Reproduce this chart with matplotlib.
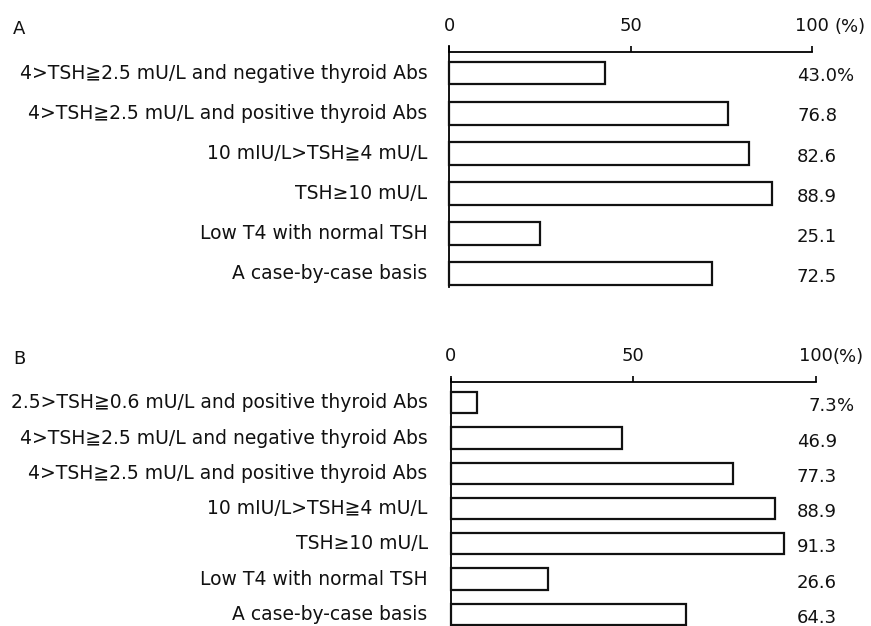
import matplotlib
matplotlib.use("Agg")
import matplotlib.pyplot as plt

plt.rcParams['font.family'] = ['DejaVu Sans', 'Noto Sans CJK JP']

# panel A
labels_a = [
    "4>TSH≧2.5 mU/L and negative thyroid Abs",
    "4>TSH≧2.5 mU/L and positive thyroid Abs",
    "10 mIU/L>TSH≧4 mU/L",
    "TSH≥10 mU/L",
    "Low T4 with normal TSH",
    "A case-by-case basis",
]
values_a = [43.0, 76.8, 82.6, 88.9, 25.1, 72.5]

# panel B
labels_b = [
    "2.5>TSH≧0.6 mU/L and positive thyroid Abs",
    "4>TSH≧2.5 mU/L and negative thyroid Abs",
    "4>TSH≧2.5 mU/L and positive thyroid Abs",
    "10 mIU/L>TSH≧4 mU/L",
    "TSH≥10 mU/L",
    "Low T4 with normal TSH",
    "A case-by-case basis",
]
values_b = [7.3, 46.9, 77.3, 88.9, 91.3, 26.6, 64.3]

FS = 13
LAB_FS = 13.5
INK = "#111111"


def draw_panel(ax, labels, values, bar_h, ylim, spine_bounds,
               val_x, pct_x, lab_x, val_dy):
    y = list(range(len(values)))
    ax.barh(y, values, height=bar_h, color="white", edgecolor=INK,
            linewidth=1.6, clip_on=False, zorder=3)
    ax.set_xlim(0, 100)
    ax.set_ylim(*ylim)
    for s in ["right", "bottom"]:
        ax.spines[s].set_visible(False)
    ax.spines["top"].set_linewidth(1.3)
    ax.spines["left"].set_linewidth(1.3)
    ax.spines["left"].set_bounds(*spine_bounds)
    ax.xaxis.tick_top()
    ax.set_xticks([0, 50, 100])
    ax.set_xticklabels(["0", "50", "100"])
    ax.tick_params(axis="x", direction="out", length=4, width=1.3, pad=8,
                   labelsize=FS, colors=INK)
    ax.set_yticks([])
    # "(%)" sits on the tick-label row, right of "100"
    ax.annotate("(%)", xy=(pct_x, 1.0), xycoords=ax.get_xaxis_transform(),
                xytext=(0, 17.5), textcoords="offset points",
                ha="left", va="center", fontsize=FS, color=INK)
    for i, (lab, v) in enumerate(zip(labels, values)):
        ax.text(lab_x, i, lab, ha="right", va="center", fontsize=LAB_FS,
                color=INK, clip_on=False)
        ax.text(val_x, i + val_dy, f"{v:.1f}", ha="right", va="center",
                fontsize=FS, color=INK, clip_on=False)
        if i == 0:
            ax.text(val_x, i + val_dy, "%", ha="left", va="center",
                    fontsize=FS, color=INK, clip_on=False)


fig = plt.figure(figsize=(8.71, 6.26), dpi=100)

ax_a = fig.add_axes([0.5159, 0.5304, 0.4161, 0.3870])
draw_panel(ax_a, labels_a, values_a, 0.57, (5.5, -0.53),
           (-0.68, 5.32), 107.0, 106.4, -6.0, 0.08)

ax_b = fig.add_axes([0.5175, 0.0018, 0.4194, 0.3885])
draw_panel(ax_b, labels_b, values_b, 0.6, (6.3, -0.6),
           (-0.68, 6.04), 105.7, 104.6, -6.3, 0.1)

fig.text(13 / 871, 1 - 29 / 626, "A", fontsize=FS, color=INK,
         ha="left", va="center")
fig.text(13 / 871, 1 - 359 / 626, "B", fontsize=FS, color=INK,
         ha="left", va="center")

fig.savefig("out.png", dpi=100)
